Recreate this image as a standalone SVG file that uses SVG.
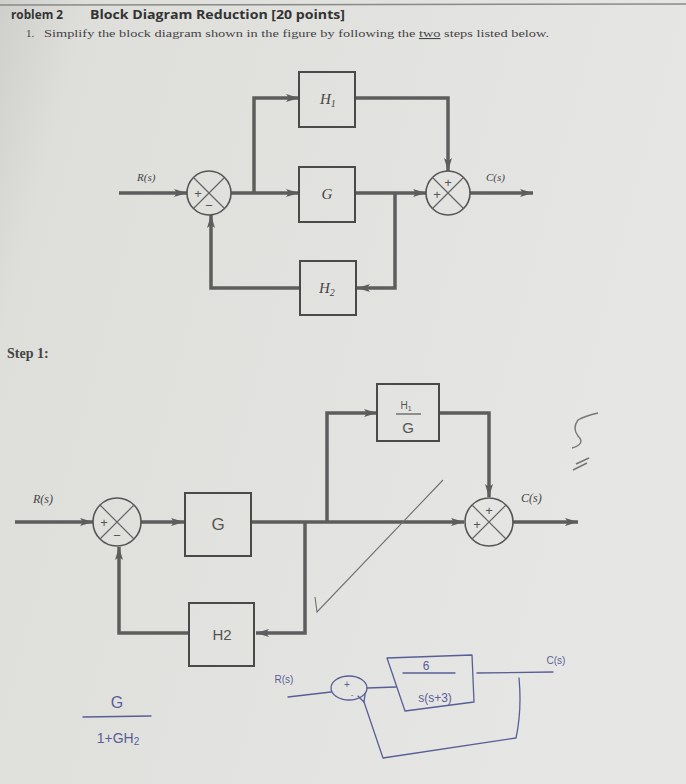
<svg xmlns="http://www.w3.org/2000/svg" width="686" height="784" viewBox="0 0 686 784">
<defs>
<linearGradient id="paper" x1="0" y1="0" x2="1" y2="0.3">
<stop offset="0" stop-color="#cfcfcc"/>
<stop offset="0.12" stop-color="#dededb"/>
<stop offset="1" stop-color="#e6e6e4"/>
</linearGradient>
<marker id="ah" markerUnits="userSpaceOnUse" markerWidth="14" markerHeight="10" refX="13" refY="5" orient="auto">
<path d="M0,1 L13,5 L0,9 L3,5 Z" fill="#5d5d5d"/>
</marker>
<marker id="bh" markerUnits="userSpaceOnUse" markerWidth="10" markerHeight="10" refX="1" refY="5" orient="auto">
<path d="M9,1 L1,5 L9,9" fill="none" stroke="#5a5e96" stroke-width="1.3"/>
</marker>
</defs>
<style>
.w{fill:none;stroke:#5d5d5d;stroke-width:3.5}
.wa{fill:none;stroke:#5d5d5d;stroke-width:3.5;marker-end:url(#ah)}
.box{fill:none;stroke:#4a4a4a;stroke-width:2}
.sum{fill:none;stroke:#555;stroke-width:1.6}
.x{stroke:#666;stroke-width:1.2}
.pl{font-family:"Liberation Serif",serif;font-style:italic;fill:#444}
.sg{font-family:"Liberation Sans",sans-serif;fill:#555;font-size:13px;text-anchor:middle}
.hw{font-family:"Liberation Sans",sans-serif;fill:#555;text-anchor:middle}
.blue{fill:none;stroke:#5a5e96;stroke-width:1.3;stroke-linecap:round;stroke-linejoin:round}
.bt{font-family:"Liberation Sans",sans-serif;fill:#5a5e96;text-anchor:middle}
.pen{fill:none;stroke:#707070;stroke-width:1.1}
</style>
<rect width="686" height="784" fill="url(#paper)"/>
<line x1="0" y1="5" x2="686" y2="4" stroke="#8a8a8a" stroke-width="1.5"/>

<g id="header">
<text x="11" y="19" font-family="'Open Sans','Liberation Sans',sans-serif" font-weight="bold" font-size="13" fill="#333" textLength="52" lengthAdjust="spacingAndGlyphs">roblem 2</text>
<text x="90" y="19" font-family="'Open Sans','Liberation Sans',sans-serif" font-weight="bold" font-size="13" fill="#333" textLength="255" lengthAdjust="spacingAndGlyphs">Block Diagram Reduction [20 points]</text>
<text x="26" y="37" font-family="'Liberation Serif',serif" font-size="11" fill="#444">1.</text>
<text x="44" y="37" font-family="'Liberation Serif',serif" font-size="11" fill="#444" textLength="505" lengthAdjust="spacingAndGlyphs">Simplify the block diagram shown in the figure by following the <tspan text-decoration="underline">two</tspan> steps listed below.</text>
<text x="7" y="358" font-family="'Liberation Serif',serif" font-size="14" font-weight="bold" fill="#444">Step 1:</text>
</g>

<g id="connectors-top">
<line class="wa" x1="119" y1="193" x2="187" y2="193"/>
<line class="wa" x1="231" y1="193" x2="299" y2="193"/>
<polyline class="wa" points="254,193 254,98 299,98"/>
<polyline class="wa" points="355,98 448,98 448,171"/>
<line class="wa" x1="355" y1="193" x2="426" y2="193"/>
<polyline class="wa" points="395,193 395,288 357,288"/>
<polyline class="wa" points="300,288 211,288 211,215"/>
<line class="wa" x1="470" y1="193" x2="533" y2="193"/>
</g>

<g id="top-sum1">
<circle class="sum" cx="209" cy="193" r="22"/>
<line class="x" x1="193.5" y1="177.5" x2="224.5" y2="208.5"/>
<line class="x" x1="224.5" y1="177.5" x2="193.5" y2="208.5"/>
<text class="sg" x="198" y="198">+</text>
<text class="sg" x="209" y="210">−</text>
</g>
<g id="top-H1"><rect class="box" x="299" y="72" width="56" height="55"/>
<text class="pl" x="320" y="104" font-size="15">H<tspan font-size="10" dy="3">1</tspan></text></g>
<g id="top-G"><rect class="box" x="299" y="167" width="56" height="55"/>
<text class="pl" x="327" y="199" font-size="15" text-anchor="middle">G</text></g>
<g id="top-H2"><rect class="box" x="300" y="261" width="56" height="54"/>
<text class="pl" x="319" y="293" font-size="15">H<tspan font-size="10" dy="3">2</tspan></text></g>
<g id="top-sum2">
<circle class="sum" cx="448" cy="193" r="22"/>
<line class="x" x1="432.5" y1="177.5" x2="463.5" y2="208.5"/>
<line class="x" x1="463.5" y1="177.5" x2="432.5" y2="208.5"/>
<text class="sg" x="448" y="187">+</text>
<text class="sg" x="437" y="199">+</text>
</g>
<g id="top-labels">
<text class="pl" x="137" y="181" font-size="11">R(s)</text>
<text class="pl" x="486" y="181" font-size="11">C(s)</text>
</g>

<g id="connectors-step1">
<line class="wa" x1="15" y1="522" x2="93" y2="522"/>
<line class="wa" x1="141" y1="522" x2="184" y2="522"/>
<line class="wa" x1="251" y1="522" x2="464" y2="522"/>
<polyline class="wa" points="327,522 327,413 377,413"/>
<polyline class="wa" points="439,413 489,413 489,497"/>
<polyline class="wa" points="305,522 305,633 256,633"/>
<polyline class="wa" points="189,633 119,633 119,547"/>
<line class="wa" x1="513" y1="522" x2="578" y2="522"/>
</g>

<g id="s1-sum1">
<circle class="sum" cx="117" cy="522" r="24"/>
<line class="x" x1="100" y1="505" x2="134" y2="539"/>
<line class="x" x1="134" y1="505" x2="100" y2="539"/>
<text class="sg" x="104" y="527">+</text>
<text class="sg" x="117" y="540">−</text>
</g>
<g id="s1-G"><rect class="box" x="185" y="493" width="66" height="63"/>
<text class="hw" x="218" y="530" font-size="17">G</text></g>
<g id="s1-H1G"><rect class="box" x="377" y="384" width="62" height="57"/>
<text class="hw" x="406" y="409" font-size="10">H<tspan font-size="7" dy="2">1</tspan></text>
<line x1="396" y1="414" x2="421" y2="414" stroke="#555" stroke-width="1.2"/>
<text class="hw" x="408" y="433" font-size="15">G</text></g>
<g id="s1-H2"><rect class="box" x="189" y="603" width="65" height="63"/>
<text class="hw" x="222" y="640" font-size="15">H2</text></g>
<g id="s1-sum2">
<circle class="sum" cx="489" cy="522" r="24"/>
<line class="x" x1="472" y1="505" x2="506" y2="539"/>
<line class="x" x1="506" y1="505" x2="472" y2="539"/>
<text class="sg" x="489" y="515">+</text>
<text class="sg" x="477" y="529">+</text>
</g>
<g id="s1-labels">
<text class="pl" x="33" y="503" font-size="12">R(s)</text>
<text class="pl" x="521" y="502" font-size="12">C(s)</text>
</g>

<g id="pencil">
<polyline class="pen" points="315,597 317,612 443,480"/>
<path d="M598,413 Q585,416 578,420 Q572,428 578,436 Q586,444 572,448" fill="none" stroke="#777" stroke-width="1.4"/>
<path d="M576,464 L589,458 M573,470 L587,463" fill="none" stroke="#777" stroke-width="1.6"/>
</g>

<g id="handwritten">
<text class="bt" x="117" y="708" font-size="16">G</text>
<line class="blue" x1="83" y1="717" x2="151" y2="716"/>
<text class="bt" x="118" y="743" font-size="14">1+GH<tspan font-size="10" dy="2">2</tspan></text>

<text class="bt" x="284" y="683" font-size="10">R(s)</text>
<line class="blue" x1="288" y1="697" x2="331" y2="692"/>
<ellipse class="blue" cx="349" cy="688" rx="18" ry="12"/>
<text class="bt" x="347" y="688" font-size="10">+</text>
<text class="bt" x="352" y="697" font-size="8">-</text>
<line class="blue" x1="367" y1="688" x2="396" y2="687"/>
<polygon class="blue" points="387,658 472,655 474,702 405,711"/>
<text class="bt" x="426" y="670" font-size="12">6</text>
<line class="blue" x1="403" y1="673" x2="455" y2="673"/>
<text class="bt" x="435" y="702" font-size="12">s(s+3)</text>
<line class="blue" x1="477" y1="673" x2="553" y2="672"/>
<text class="bt" x="556" y="664" font-size="10">C(s)</text>
<path class="blue" d="M519,678 Q522,710 516,738 L383,758 L364,702" marker-end="url(#bh)"/>
</g>
</svg>
